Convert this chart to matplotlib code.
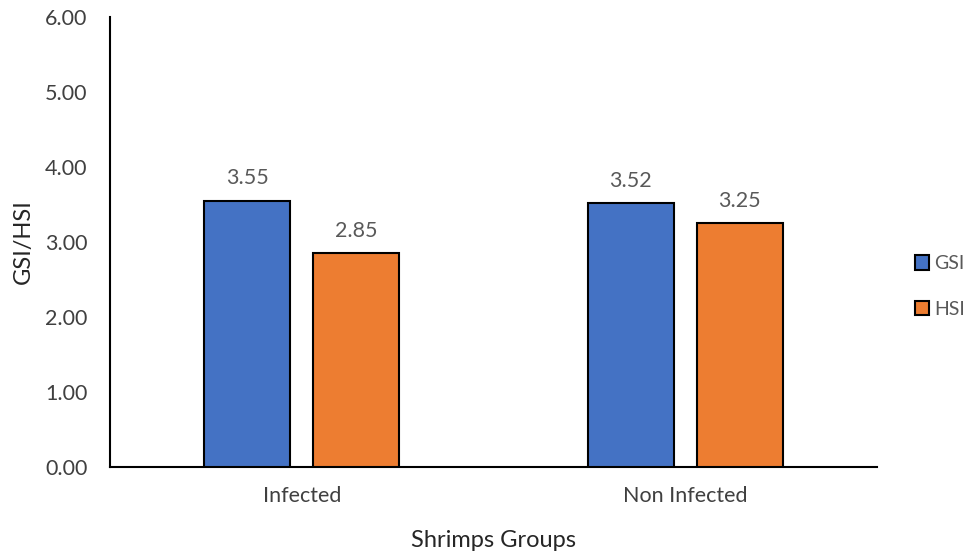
import matplotlib
matplotlib.use("Agg")
import matplotlib.pyplot as plt
import numpy as np

plt.rcParams['font.family'] = ['Lato', 'DejaVu Sans']

groups = ["Infected", "Non Infected"]
series_names = ["GSI", "HSI"]
gsi = [3.55, 3.52]
hsi = [2.85, 3.25]
colors = ["#4472C4", "#ED7D31"]

fig = plt.figure(figsize=(9.74, 5.54), dpi=100)
ax = fig.add_axes([0.1129, 0.157, 0.7875, 0.812])

x = np.arange(len(groups))
width = 0.224
offset = 0.142
for vals, name, col, sign in [(gsi, series_names[0], colors[0], -1),
                              (hsi, series_names[1], colors[1], 1)]:
    bars = ax.bar(x + sign * offset, vals, width, color=col, edgecolor="black",
                  linewidth=1.5, label=name, zorder=3)
    for b, v in zip(bars, vals):
        ax.annotate(f"{v:.2f}", (b.get_x() + b.get_width() / 2, v),
                    xytext=(0, 9), textcoords="offset points",
                    ha="center", va="bottom", fontsize=15.5, color="#595959")

ax.set_xlim(-0.5, 1.5)
ax.set_ylim(0, 6)
ax.set_yticks(np.arange(0, 7, 1))
ax.set_yticklabels([f"{t:.2f}" for t in range(7)])
ax.set_xticks(x)
ax.set_xticklabels(groups)
ax.tick_params(axis="both", length=0, labelsize=15.5, labelcolor="#404040")
ax.tick_params(axis="x", pad=14)
ax.tick_params(axis="y", pad=16)

for s in ["top", "right"]:
    ax.spines[s].set_visible(False)
ax.spines["left"].set_linewidth(1.5)
ax.spines["bottom"].set_linewidth(1.5)

ax.set_xlabel("Shrimps Groups", fontsize=17, color="#262626", labelpad=17)
ax.set_ylabel("GSI/HSI", fontsize=17, color="#262626", labelpad=8)

leg = fig.legend(loc="center left", bbox_to_anchor=(0.927, 0.483), frameon=False,
                 fontsize=14, handlelength=0.75, handleheight=0.75,
                 handletextpad=0.25, labelspacing=1.45, borderaxespad=0.2)
for t in leg.get_texts():
    t.set_color("#595959")

fig.savefig("out.png", dpi=100)
